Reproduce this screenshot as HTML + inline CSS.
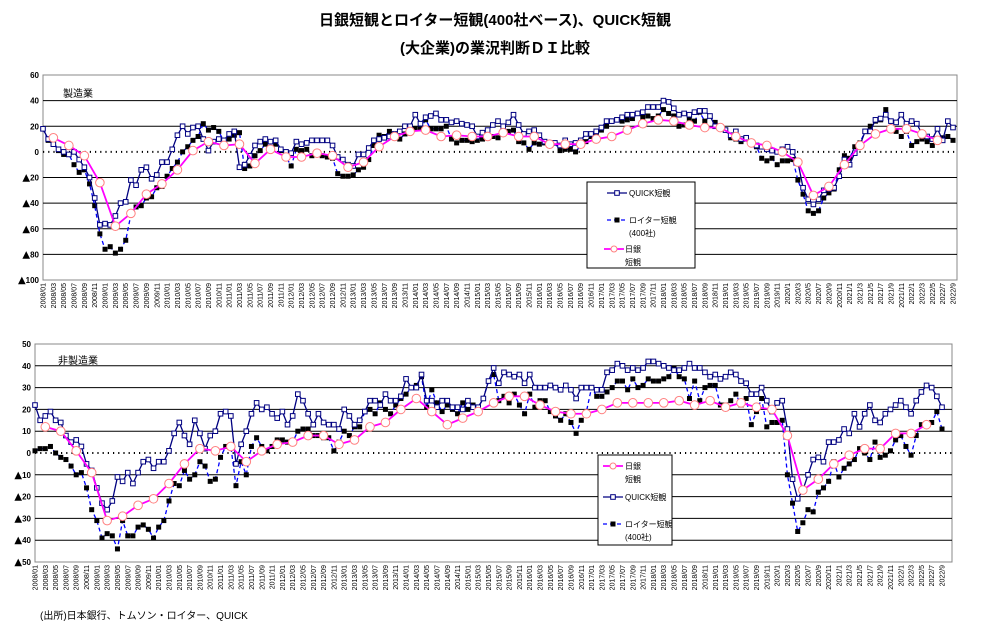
<!DOCTYPE html>
<html><head><meta charset="utf-8">
<style>
body{margin:0;background:#fff;}
svg{display:block;font-family:"Liberation Sans","Noto Sans CJK JP",sans-serif;}
</style></head>
<body>
<svg id="chart" width="990" height="638" viewBox="0 0 990 638" xmlns="http://www.w3.org/2000/svg">
<text x="495" y="25" text-anchor="middle" font-size="15" font-weight="bold">日銀短観とロイター短観(400社ベース)、QUICK短観</text>
<text x="495" y="53" text-anchor="middle" font-size="15" font-weight="bold">(大企業)の業況判断ＤＩ比較</text>
<text x="40" y="619" font-size="10">(出所)日本銀行、トムソン・ロイター、QUICK</text>
<g id="top"></g>
<g id="bottom"></g>
</svg>
<script>
// Manufacturing (monthly from 2008/01 to 2022/09)
const mfgQuick = [
18,10,6,2,0,-2,0,-6,-12,-20,-36,-57,
-56,-57,-50,-40,-39,-22,-26,-14,-12,-21,-18,-8,
-8,2,13,20,14,19,20,10,1,8,10,9,
14,16,-12,-10,-3,5,8,10,8,9,2,0,
-1,8,6,7,9,9,9,9,5,-4,-6,-10,
-11,-2,-2,3,9,10,11,12,14,16,20,20,
29,22,27,28,30,25,25,23,24,22,21,20,
12,15,17,21,24,20,23,29,21,14,16,17,
13,8,7,7,5,9,6,7,9,14,14,16,
19,24,24,25,27,29,29,30,31,35,35,35,
40,39,34,29,30,29,31,32,32,28,20,19,
17,13,16,10,11,7,5,4,2,1,0,2,
4,0,-8,-28,-37,-41,-37,-30,-29,-28,-19,-6,
-10,-1,5,16,16,25,26,29,24,23,29,22,
24,22,14,12,10,18,9,24,19];
const mfgReuters = [
18,9,8,1,-2,-2,-10,-16,-14,-25,-42,-64,
-76,-74,-79,-76,-69,-49,-43,-42,-36,-35,-28,-27,
-19,-13,-8,0,4,9,12,22,17,19,16,8,
10,13,15,-13,-11,-3,1,6,8,6,1,-4,
-11,2,1,2,-3,-2,-3,-4,-5,-17,-19,-19,
-18,-14,-12,-6,5,13,12,16,13,10,14,15,
18,18,25,18,18,18,20,10,7,9,9,8,
9,10,11,12,11,14,16,17,8,7,2,7,
6,7,5,7,1,2,2,0,5,8,12,15,
17,20,24,25,24,25,26,30,27,28,26,28,
33,30,28,20,21,25,24,31,24,28,23,20,
17,11,10,8,10,8,4,-5,-7,-5,-10,-7,
-7,-6,-22,-33,-46,-48,-46,-36,-32,-29,-14,-3,
-5,4,7,16,20,24,25,33,18,16,12,16,
5,8,10,8,5,9,11,12,9];
// Tankan quarterly from 2008/03
const mfgTankan = [11,5,-3,-24,-58,-48,-33,-25,-14,1,8,5,6,-9,2,-4,-4,-1,-3,-12,-8,4,12,16,17,12,13,12,12,15,12,12,6,6,6,10,12,17,22,25,24,21,19,19,12,7,5,0,-8,-34,-27,-10,5,14,18,18,14,9];
// Non-manufacturing
const nonQuick = [
22,15,17,19,15,14,8,5,6,3,-5,-8,
-16,-23,-26,-22,-11,-13,-9,-14,-9,-4,-3,-7,
-4,-4,1,9,14,8,4,15,9,2,8,10,
18,19,17,-5,4,10,18,23,20,21,18,16,
19,13,17,27,24,18,13,18,14,13,13,11,
20,17,13,15,19,24,24,22,27,24,24,26,
34,30,30,36,24,24,21,24,24,21,21,20,
24,21,21,25,33,39,32,37,36,35,36,32,
36,30,30,30,31,30,29,31,29,25,30,30,
30,29,29,37,38,41,40,38,39,38,39,42,
42,41,40,39,38,38,39,41,39,39,37,35,
36,34,35,37,36,33,32,27,27,30,24,19,
23,24,11,-12,-21,-17,-10,-3,-2,-4,5,5,
6,11,9,18,12,18,22,15,14,18,20,22,
24,21,18,24,28,31,30,26,21];
const nonReuters = [
1,2,2,3,0,-2,-3,-6,-10,-9,-16,-26,
-31,-39,-37,-38,-44,-31,-38,-38,-34,-33,-35,-39,
-34,-31,-22,-14,-15,-8,-12,-10,-4,-6,-13,-12,
-2,3,3,-15,-4,-10,3,7,3,1,3,6,
6,5,5,10,11,11,8,8,7,7,1,5,
10,8,12,12,19,20,18,23,20,18,22,25,
27,30,31,35,21,29,23,19,22,20,18,23,
20,22,21,25,33,36,24,26,23,27,22,18,
27,21,24,24,19,17,15,18,14,9,15,19,
30,26,26,28,30,33,33,29,34,30,31,34,
33,33,34,35,39,35,34,25,33,24,30,31,
31,22,22,24,27,22,25,13,19,25,12,14,
14,15,-10,-23,-36,-32,-26,-27,-18,-16,-13,-4,
-11,-7,-5,-3,2,0,-3,5,-2,-1,1,6,
8,3,-1,8,13,13,14,19,11];
const nonTankan = [12,10,1,-9,-31,-29,-24,-21,-14,-5,2,1,3,-4,1,4,5,8,8,4,6,12,14,20,25,19,13,16,19,23,26,26,22,19,18,18,20,23,23,23,23,24,22,24,21,23,21,20,8,-17,-12,-5,-1,2,2,9,9,13];
const topTicks = [60,40,20,0,-20,-40,-60,-80,-100];
const bottomTicks = [50,40,30,20,10,0,-10,-20,-30,-40,-50];

const NS="http://www.w3.org/2000/svg";
function mk(parent, tag, attrs){const e=document.createElementNS(NS,tag);for(const k in attrs)e.setAttribute(k,attrs[k]);parent.appendChild(e);return e;}
function monthLabel(i){const y=2008+Math.floor(i/12), m=i%12+1; return y>=2020? y+"/"+m : y+"/"+(m<10?"0"+m:m);}

function drawChart(g, cfg){
  const {x0,x1,y0,y1,xFirst,xLast,vMax,vMin,ticks,quick,reuters,tankan,title,titleX,titleY,prefix}=cfg;
  const n=quick.length;
  const X=i=>xFirst+i*(xLast-xFirst)/(n-1);
  const Y=v=>y0+(vMax-v)*(y1-y0)/(vMax-vMin);
  let r=mk(g,'rect',{x:x0,y:y0,width:x1-x0,height:y1-y0,fill:'#fff',stroke:'#888','stroke-width':1});
  
  
  ticks.forEach(t=>{
    if(t!==vMax && t!==vMin){
      const l=mk(g,'line',{x1:x0,x2:x1,y1:Y(t),y2:Y(t),stroke:'#000','stroke-width':t===0?2:1,'stroke-dasharray':t===0?'1.2,4':'none'});
      
      
    }
    const tx=mk(g,'text',{x:x0-4,y:Y(t)+3,'text-anchor':'end','font-size':8,'font-weight':'bold'});
    if(t<0){
      const s=mk(tx,'tspan',{'font-size':10,'font-family':'"DejaVu Sans",sans-serif'});
      s.textContent='▲';
      const s2=mk(tx,'tspan',{});
      s2.textContent=String(-t);
    } else tx.textContent=String(t);
    
    
  });
  for(let i=0;i<n;i+=2){
    let lab=monthLabel(i);
    const tx=mk(g,'text',{transform:`translate(${X(i)+2.5},${y1+3}) rotate(-90)`,'text-anchor':'end','font-size':7});
    tx.textContent=lab;
    
    
  }
  const tl=mk(g,'text',{x:titleX,y:titleY,'font-size':10});
  tl.textContent=title;
  
  
  const rp=mk(g,'polyline',{points:reuters.map((v,i)=>X(i)+','+Y(v)).join(' '),fill:'none',stroke:'#0000ff','stroke-width':1.3,'stroke-dasharray':'4,3'});
  
  
  reuters.forEach((v,i)=>{const s=mk(g,'rect',{x:X(i)-2.5,y:Y(v)-2.5,width:5,height:5,fill:'#000'});
    
    });
  const qp=mk(g,'polyline',{points:quick.map((v,i)=>X(i)+','+Y(v)).join(' '),fill:'none',stroke:'#000080','stroke-width':1.3});
  
  
  quick.forEach((v,i)=>{const s=mk(g,'rect',{x:X(i)-2.3,y:Y(v)-2.3,width:4.6,height:4.6,fill:'#fff',stroke:'#000080','stroke-width':1});
    
    });
  const tk=tankan.map((v,j)=>[X(2+3*j),Y(v)]);
  const tp=mk(g,'polyline',{points:tk.map(p=>p.join(',')).join(' '),fill:'none',stroke:'#ff00ff','stroke-width':1.8});
  
  
  tk.forEach(p=>{const c=mk(g,'circle',{cx:p[0],cy:p[1],r:4.3,fill:'#fff',stroke:'#ff8080','stroke-width':1});
    
    });
}

function legendEntry(g,type,lx,ly,lines,prefix){
  const e=mk(g,'g',{});
  
  
  if(type==='quick'){mk(e,'line',{x1:lx,x2:lx+20,y1:ly,y2:ly,stroke:'#000080','stroke-width':1.3});mk(e,'rect',{x:lx+7.7,y:ly-2.3,width:4.6,height:4.6,fill:'#fff',stroke:'#000080'});}
  if(type==='reuters'){mk(e,'line',{x1:lx,x2:lx+20,y1:ly,y2:ly,stroke:'#0000ff','stroke-width':1.3,'stroke-dasharray':'4,3'});mk(e,'rect',{x:lx+7.5,y:ly-2.5,width:5,height:5,fill:'#000'});}
  if(type==='tankan'){mk(e,'line',{x1:lx,x2:lx+20,y1:ly,y2:ly,stroke:'#ff00ff','stroke-width':1.8});mk(e,'circle',{cx:lx+10,cy:ly,r:3,fill:'#fff',stroke:'#ff8080'});}
  lines.forEach((t,k)=>{const tx=mk(e,'text',{x:t[1],y:ly+3+k*13,'font-size':8});tx.textContent=t[0];});
}

const topG=document.getElementById('top');


drawChart(topG,{x0:43,x1:957,y0:75,y1:280,xFirst:43,xLast:953,vMax:60,vMin:-100,ticks:topTicks,quick:mfgQuick,reuters:mfgReuters,tankan:mfgTankan,title:'製造業',titleX:63,titleY:97,prefix:'mfg'});
const bottomG=document.getElementById('bottom');


drawChart(bottomG,{x0:35,x1:952,y0:344,y1:562,xFirst:35,xLast:942,vMax:50,vMin:-50,ticks:bottomTicks,quick:nonQuick,reuters:nonReuters,tankan:nonTankan,title:'非製造業',titleX:58,titleY:364,prefix:'nonmfg'});

let lb=mk(topG,'rect',{x:587,y:182,width:108,height:86,fill:'#fff',stroke:'#000','stroke-width':1});


legendEntry(topG,'quick',607,193,[['QUICK短観',629]],'mfg');
legendEntry(topG,'reuters',607,220,[['ロイター短観',629],['(400社)',629]],'mfg');
legendEntry(topG,'tankan',604,249,[['日銀',625],['短観',625]],'mfg');
let lb2=mk(bottomG,'rect',{x:598,y:455,width:74,height:90,fill:'#fff',stroke:'#000','stroke-width':1});


legendEntry(bottomG,'tankan',603,466,[['日銀',625],['短観',625]],'nonmfg');
legendEntry(bottomG,'quick',603,497,[['QUICK短観',625]],'nonmfg');
legendEntry(bottomG,'reuters',603,524,[['ロイター短観',625],['(400社)',625]],'nonmfg');
</script>
</body></html>
